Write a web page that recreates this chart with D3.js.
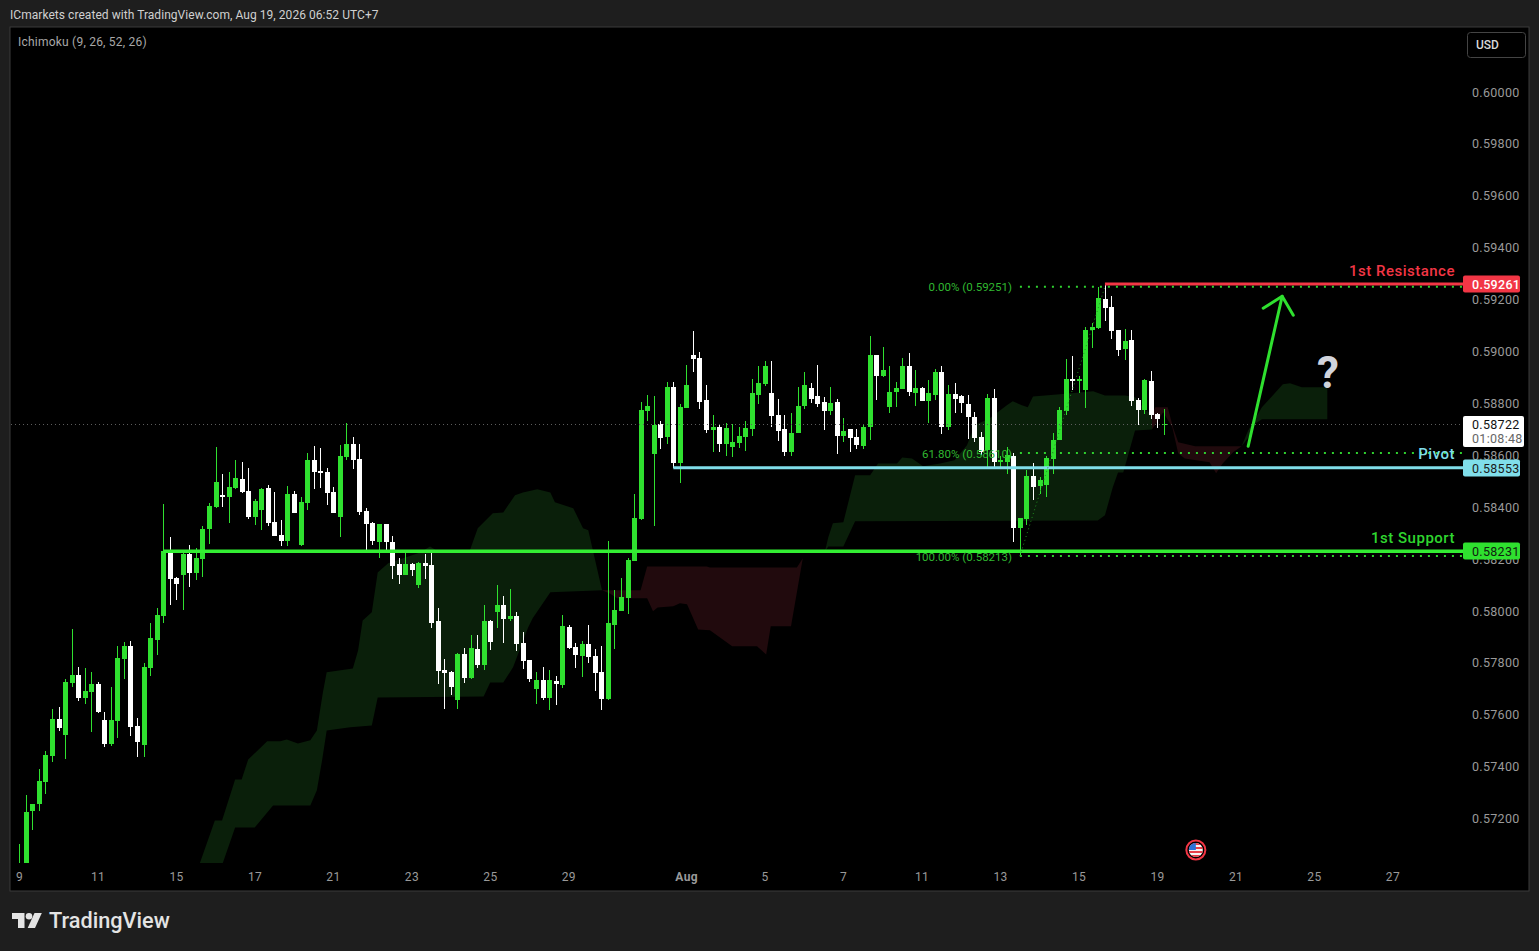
<!DOCTYPE html>
<html><head><meta charset="utf-8">
<style>
html,body{margin:0;padding:0;background:#1e1e1e;overflow:hidden}
svg{display:block}
text{font-family:Roboto,sans-serif}
</style>
<script src="https://cdn.jsdelivr.net/npm/d3@7/dist/d3.min.js"></script>
</head><body><svg id="c" width="1539" height="951"></svg>
<script>
const opens=[.56950,.57000,.57229,.57256,.57341,.57441,.57584,.57522,.57723,.57753,
.57665,.57688,.57719,.57580,.57487,.57576,.57815,.57865,.57557,.57484,
.57780,.57888,.57981,.58231,.58127,.58139,.58220,.58146,.58200,.58316,
.58401,.58447,.58439,.58474,.58509,.58462,.58362,.58389,.58474,.58343,
.58293,.58270,.58451,.58254,.58416,.58582,.58539,.58536,.58459,.58362,
.58593,.58644,.58586,.58385,.58339,.58266,.58335,.58266,.58181,.58139,
.58181,.58100,.58185,.58177,.57961,.57773,.57765,.57657,.57834,.57742,
.57854,.57792,.57961,.57996,.58023,.57969,.57981,.57877,.57811,.57699,
.57734,.57665,.57730,.57715,.57938,.57861,.57827,.57873,.57827,.57765,
.57661,.57946,.58000,.58050,.58193,.58354,.58770,.58608,.58720,.58670,
.58863,.58570,.58782,.58986,.58975,.58813,.58697,.58709,.58643,.58632,
.58647,.58670,.58701,.58832,.58874,.58840,.58755,.58701,.58612,.58686,
.58790,.58859,.58828,.58805,.58770,.58805,.58674,.58701,.58670,.58636,
.58709,.58986,.58905,.58786,.58844,.58855,.58944,.58840,.58859,.58809,
.58832,.58921,.58709,.58836,.58829,.58798,.58748,.58670,.58620,.58821,
.58574,.58574,.58597,.58320,.58355,.58520,.58482,.58486,.58586,.58659,
.58771,.58894,.58891,.58852,.59083,.59090,.59202,.59171,.59083,.59010,
.59044,.58813,.58775,.58886,.58759,.58717];
const closes=[.57000,.57225,.57259,.57345,.57445,.57584,.57549,.57726,.57753,.57665,
.57692,.57719,.57611,.57487,.57580,.57819,.57865,.57553,.57495,.57784,
.57896,.57985,.58231,.58123,.58104,.58220,.58146,.58204,.58316,.58405,
.58497,.58439,.58478,.58512,.58459,.58362,.58424,.58470,.58339,.58289,
.58270,.58451,.58378,.58420,.58582,.58536,.58532,.58455,.58378,.58597,
.58644,.58582,.58381,.58335,.58270,.58335,.58266,.58173,.58139,.58181,
.58158,.58185,.58173,.57954,.57769,.57761,.57707,.57834,.57742,.57857,
.57792,.57961,.57881,.58023,.57969,.57981,.57873,.57807,.57738,.57734,
.57665,.57734,.57719,.57942,.57857,.57830,.57873,.57823,.57761,.57661,
.57954,.58004,.58054,.58197,.58358,.58774,.58793,.58716,.58666,.58863,
.58570,.58786,.58871,.58971,.58805,.58697,.58709,.58643,.58705,.58651,
.58674,.58705,.58840,.58878,.58944,.58751,.58693,.58612,.58689,.58793,
.58871,.58820,.58797,.58770,.58801,.58674,.58693,.58666,.58639,.58712,
.58986,.58905,.58928,.58847,.58859,.58944,.58844,.58859,.58809,.58840,
.58921,.58709,.58836,.58820,.58801,.58748,.58667,.58613,.58821,.58574,
.58582,.58601,.58320,.58358,.58520,.58478,.58505,.58590,.58659,.58775,
.58894,.58891,.58894,.59083,.59094,.59206,.59168,.59079,.59006,.59040,
.58809,.58775,.58890,.58755,.58740,.58722];
const highs=[.57102,.57291,.57259,.57391,.57460,.57622,.57630,.57738,.57931,.57784,
.57780,.57765,.57726,.57611,.57707,.57865,.57881,.57884,.57588,.57800,
.57954,.58012,.58412,.58285,.58131,.58227,.58254,.58243,.58328,.58416,
.58632,.58528,.58536,.58582,.58574,.58551,.58432,.58474,.58486,.58459,
.58351,.58482,.58462,.58439,.58609,.58636,.58628,.58551,.58478,.58640,
.58724,.58670,.58644,.58397,.58343,.58335,.58335,.58289,.58204,.58223,
.58185,.58189,.58220,.58231,.58012,.57815,.57769,.57838,.57857,.57907,
.57907,.58023,.57965,.58100,.58058,.58085,.57996,.57919,.57811,.57765,
.57784,.57773,.57750,.57985,.57946,.57877,.57884,.57946,.57854,.57865,
.58270,.58081,.58127,.58204,.58451,.58805,.58832,.58828,.58732,.58882,
.58882,.58797,.58951,.59079,.58998,.58871,.58755,.58720,.58724,.58720,
.58709,.58732,.58894,.58944,.58963,.58963,.58817,.58755,.58766,.58863,
.58924,.58878,.58951,.58824,.58863,.58820,.58743,.58701,.58701,.58716,
.59059,.58986,.59017,.58944,.58882,.58975,.58994,.58928,.58863,.58890,
.58932,.58944,.58871,.58878,.58832,.58832,.58767,.58690,.58836,.58855,
.58597,.58632,.58609,.58358,.58543,.58570,.58516,.58597,.58686,.58786,
.58971,.58983,.58906,.59094,.59110,.59248,.59260,.59214,.59083,.59087,
.59083,.58821,.58894,.58925,.58763,.58778];
const lows=[.56900,.56980,.57157,.57231,.57295,.57418,.57538,.57430,.57707,.57653,
.57642,.57534,.57607,.57476,.57480,.57511,.57738,.57518,.57437,.57437,
.57750,.57830,.57954,.58023,.58042,.58004,.58092,.58119,.58131,.58258,
.58397,.58401,.58339,.58470,.58455,.58354,.58331,.58312,.58328,.58289,
.58250,.58250,.58378,.58250,.58389,.58470,.58474,.58408,.58378,.58285,
.58582,.58547,.58370,.58223,.58254,.58204,.58235,.58123,.58104,.58139,
.58135,.58089,.58123,.57934,.57719,.57622,.57676,.57622,.57723,.57738,
.57780,.57773,.57850,.57934,.57877,.57961,.57846,.57777,.57726,.57642,
.57657,.57618,.57638,.57703,.57854,.57780,.57746,.57800,.57692,.57618,
.57657,.57854,.58000,.57988,.58193,.58350,.58732,.58330,.58624,.58643,
.58551,.58493,.58782,.58924,.58778,.58686,.58612,.58612,.58597,.58593,
.58628,.58616,.58674,.58797,.58867,.58712,.58655,.58597,.58597,.58686,
.58778,.58801,.58786,.58697,.58755,.58605,.58651,.58612,.58624,.58624,
.58659,.58813,.58901,.58763,.58786,.58855,.58828,.58790,.58809,.58724,
.58813,.58682,.58697,.58766,.58763,.58663,.58651,.58601,.58555,.58547,
.58547,.58528,.58266,.58212,.58331,.58428,.58451,.58439,.58528,.58659,
.58755,.58852,.58840,.58782,.59013,.59087,.59117,.59048,.58983,.58967,
.58790,.58717,.58759,.58740,.58705,.58678];

// Ichimoku cloud outlines: [bar index, price]
const green1Upper=[[27.6,.57029],[29.9,.57194],[31,.57194],[33,.57352],[34,.57352],[35,.57429],[37.9,.57499],[39.9,.57499],[40.9,.57506],[42.6,.57491],[44.5,.57503],[45.5,.57541],[46.4,.57684],[47,.57765],[51,.57780],[51.8,.57849],[52.5,.57965],[53.9,.57996],[54.8,.58150],[56.4,.58185],[61.3,.58227],[62.8,.58250],[64.3,.58227],[68.9,.58235],[70.1,.58320],[72.4,.58378],[74,.58381],[75.8,.58447],[77,.58458],[79.2,.58470],[81.2,.58458],[81.9,.58420],[84.7,.58397],[86.2,.58320],[87,.58312],[89.1,.58081]];
const green1Lower=[[27.6,.57029],[31.1,.57029],[33,.57167],[36,.57167],[38.8,.57252],[44.5,.57252],[45.5,.57310],[46.3,.57426],[47,.57541],[50.6,.57553],[53.9,.57560],[54.8,.57668],[71,.57672],[72,.57726],[74,.57726],[75.5,.57784],[77.8,.57938],[78.5,.57973],[81.2,.58073],[89.1,.58081]];
const red1Upper=[[89.1,.58081],[95,.58081],[96,.58173],[105.1,.58173],[105.6,.58169],[118.9,.58169],[119.8,.58204]];
const red1Lower=[[89.1,.58081],[90.3,.58069],[91.4,.58050],[96,.58050],[96.9,.58000],[97.6,.58015],[100,.58019],[101,.58031],[102.1,.58027],[103.8,.57930],[105.6,.57927],[109,.57865],[112.8,.57865],[114.2,.57834],[114.9,.57942],[118,.57942],[119.8,.58204]];
const green2Upper=[[119.8,.58204],[123.2,.58231],[123.7,.58285],[124.4,.58339],[126,.58343],[127.8,.58524],[130.1,.58524],[131.3,.58570],[134.2,.58570],[135,.58593],[136.5,.58589],[138.2,.58559],[140.8,.58570],[143,.58582],[144.9,.58640],[146.1,.58717],[148.4,.58744],[151,.58794],[151.9,.58809],[153.3,.58794],[154.2,.58786],[155,.58828],[159.1,.58836],[164.2,.58848],[166,.58832],[169.1,.58832],[170.6,.58825],[171.8,.58786],[173.2,.58755]];
const green2Lower=[[119.8,.58204],[123.2,.58231],[123.7,.58250],[126,.58250],[127.8,.58347],[164.9,.58350],[166,.58370],[167.2,.58478],[168,.58535],[168.8,.58535],[170.6,.58697],[173.2,.58701]];
const red2Upper=[[173.2,.58755],[173.7,.58786],[175.6,.58786],[176.4,.58709],[177.2,.58651],[179.8,.58636],[186.9,.58636]];
const red2Lower=[[173.2,.58701],[174.9,.58767],[176.3,.58709],[177.2,.58609],[178.2,.58589],[182,.58574],[183,.58532],[184,.58570],[185.6,.58613],[186.9,.58636]];
const green3Upper=[[186.9,.58636],[187.9,.58697],[190,.58786],[193.2,.58875],[194.3,.58879],[196.1,.58863],[200,.58863]];
const green3Lower=[[186.9,.58636],[188.2,.58678],[189,.58724],[190,.58740],[200,.58740]];

const priceTicks=[.6,.598,.596,.594,.592,.59,.588,.586,.584,.582,.58,.578,.576,.574,.572];
const timeTickBars=[0,12,24,36,48,60,72,84,102,114,126,138,150,162,174,186,198,210];
const timeTickLabels=["9","11","15","17","21","23","25","29","Aug","5","7","11","13","15","19","21","25","27"];

const resistance=.59261, pivot=.58553, support=.58231, lastPrice=.58722;
const fibLevels=[[.59251,"0.00% (0.59251)"],[.58610,"61.80% (0.58610)"],[.58213,"100.00% (0.58213)"]];
const arrowShaft=[[187.9,.58636],[193.1,.59214]];
const arrowHead=[[190.2,.59168],[193.1,.59214],[194.8,.59141]];

const GREEN="#2fe02f", WHITE="#ffffff", RED="#f23645", CYAN="#80deea";
const CLOUD_G="#0a1f0a", CLOUD_R="#210a0d";

const svg=d3.select("#c");
const x=d3.scaleLinear().domain([0,210]).range([19.3,19.3+6.54*210]);
const y=d3.scaleLinear().domain([.6,.572]).range([92.3,818.9]);

svg.append("rect").attr("x",10).attr("y",27).attr("width",1519).attr("height",864).attr("fill","#000").attr("stroke","#3a3a3a").attr("stroke-width",1);
const defs=svg.append("defs");
defs.append("clipPath").attr("id","plot").append("rect").attr("x",11).attr("y",28).attr("width",1452).attr("height",835);
defs.append("clipPath").attr("id","lines").append("rect").attr("x",11).attr("y",28).attr("width",1452).attr("height",862);

const plot=svg.append("g").attr("clip-path","url(#plot)");
const line=d3.line().x(d=>x(d[0])).y(d=>y(d[1]));
[[green1Upper,green1Lower,CLOUD_G],[red1Upper,red1Lower,CLOUD_R],[green2Upper,green2Lower,CLOUD_G],[red2Upper,red2Lower,CLOUD_R],[green3Upper,green3Lower,CLOUD_G]].forEach(([u,l,c])=>{
  plot.append("path").attr("d",line(u.concat(l.slice().reverse()))+"Z").attr("fill",c);
});

// last price dotted line
const lg=svg.append("g").attr("clip-path","url(#lines)");
lg.append("line").attr("x1",11).attr("x2",1463).attr("y1",Math.round(y(lastPrice))+.5).attr("y2",Math.round(y(lastPrice))+.5).attr("stroke","#5d5d5d").attr("stroke-dasharray","1 3");

// fib
const fib=svg.append("g").attr("clip-path","url(#lines)");
fib.selectAll("text").data(fibLevels).join("text").attr("x",1012).attr("y",d=>y(d[0])+4.5).attr("text-anchor","end").attr("font-size",11.5).attr("fill","#30b830").text(d=>d[1]);
fib.selectAll("line.f").data(fibLevels).join("line").attr("class","f").attr("x1",x(153)).attr("x2",1463).attr("y1",d=>y(d[0])).attr("y2",d=>y(d[0])).attr("stroke","#2fd02f").attr("stroke-width",2).attr("stroke-dasharray","2 6");
fib.append("line").attr("x1",x(153)).attr("y1",y(.58213)).attr("x2",x(166)).attr("y2",y(.59251)).attr("stroke","#1f8f1f").attr("stroke-width",1).attr("stroke-dasharray","1 3");

// candles
const bars=d3.range(opens.length).map(i=>({i,o:opens[i],h:highs[i],l:lows[i],c:closes[i]}));
const g=plot.append("g").attr("shape-rendering","crispEdges");
g.selectAll("rect.w").data(bars).join("rect").attr("class","w")
 .attr("x",d=>Math.round(x(d.i))).attr("width",1).attr("y",d=>y(d.h)).attr("height",d=>y(d.l)-y(d.h))
 .attr("fill",d=>d.c>=d.o?GREEN:WHITE);
g.selectAll("rect.b").data(bars).join("rect").attr("class","b")
 .attr("x",d=>Math.round(x(d.i))-2).attr("width",5)
 .attr("y",d=>y(Math.max(d.o,d.c))).attr("height",d=>Math.max(1.5,Math.abs(y(d.o)-y(d.c))))
 .attr("fill",d=>d.c>=d.o?GREEN:WHITE);

// level lines
[[resistance,166,RED,3],[pivot,100,CYAN,3],[support,22,"#33ee33",3.5]].forEach(([p,b,c,w])=>{
  lg.append("line").attr("x1",x(b)).attr("x2",1463).attr("y1",y(p)).attr("y2",y(p)).attr("stroke",c).attr("stroke-width",w);
});

// arrow
lg.append("path").attr("d",line(arrowShaft)).attr("fill","none").attr("stroke","#2fe02f").attr("stroke-width",3).attr("stroke-linecap","round");
lg.append("path").attr("d",line(arrowHead)).attr("fill","none").attr("stroke","#2fe02f").attr("stroke-width",3).attr("stroke-linecap","round").attr("stroke-linejoin","round");
svg.append("text").attr("x",1328).attr("y",388).attr("text-anchor","middle").attr("font-size",44).attr("font-weight",700).attr("fill","#d1d4dc").text("?");

// level captions
[["1st Resistance",resistance,RED],["Pivot",pivot,CYAN],["1st Support",support,"#2fd62f"]].forEach(([t,p,c])=>{
  svg.append("text").attr("x",1455).attr("y",y(p)-(t=="Pivot"?8.5:8)).attr("text-anchor","end").attr("font-size",15).attr("font-weight",500).attr("letter-spacing",.5).attr("fill",c).text(t);
});

// axes
const ya=d3.axisRight(y).tickValues(priceTicks).tickFormat(d3.format(".5f")).tickSize(0).tickPadding(0);
const yg=svg.append("g").attr("transform","translate(1472,-0.3)").call(ya);
yg.select(".domain").remove();
yg.selectAll("text").attr("font-size",12.5).attr("letter-spacing",.3).attr("fill","#9a9a9a").style("font-family","Roboto");
const xa=d3.axisBottom(x).tickValues(timeTickBars).tickFormat((d,i)=>timeTickLabels[i]).tickSize(0).tickPadding(0);
const xg=svg.append("g").attr("transform","translate(-0.3,872)").call(xa);
xg.select(".domain").remove();
xg.selectAll("text").attr("font-size",12).attr("letter-spacing",.3).attr("fill","#9a9a9a").attr("font-weight",(d,i)=>timeTickLabels[i]=="Aug"?700:400).style("font-family","Roboto");

// price tags
function tag(p,bg,fg,txt,w){
  const cy=Math.round(y(p));
  svg.append("rect").attr("x",1463).attr("y",cy-8.5).attr("width",57).attr("height",17).attr("rx",2).attr("fill",bg);
  svg.append("text").attr("x",1472).attr("y",cy+4.5).attr("font-size",12.5).attr("font-weight",w).attr("letter-spacing",.3).attr("fill",fg).text(txt);
}
tag(resistance,RED,"#fff","0.59261",500);
tag(pivot,CYAN,"#1a1a1a","0.58553",400);
tag(support,"#2fe02f","#102010","0.58231",400);
const ly=Math.round(y(lastPrice));
svg.append("rect").attr("x",1463).attr("y",ly-8).attr("width",61).attr("height",31).attr("rx",2).attr("fill","#fff");
svg.append("text").attr("x",1472).attr("y",ly+4.5).attr("font-size",12.5).attr("letter-spacing",.3).attr("fill","#111").text("0.58722");
svg.append("text").attr("x",1472).attr("y",ly+18.5).attr("font-size",12.5).attr("letter-spacing",.3).attr("fill","#666").text("01:08:48");

// top texts
svg.append("text").attr("x",10).attr("y",19).attr("font-size",12).attr("letter-spacing",.05).attr("fill","#d0d0d0").text("ICmarkets created with TradingView.com, Aug 19, 2026 06:52 UTC+7");
svg.append("text").attr("x",18).attr("y",46).attr("font-size",12).attr("letter-spacing",.22).attr("fill","#a8a8a8").text("Ichimoku (9, 26, 52, 26)");

// USD button
svg.append("rect").attr("x",1467.5).attr("y",32.5).attr("width",58).attr("height",25).attr("rx",3).attr("fill","#000").attr("stroke","#444");
svg.append("text").attr("x",1476).attr("y",49).attr("font-size",12).attr("font-weight",500).attr("fill","#d8d8d8").text("USD");

// flag
const fl=svg.append("g").attr("transform","translate("+x(179.9)+",850)");
fl.append("circle").attr("r",10.5).attr("fill","#000");
defs.append("clipPath").attr("id","flag").append("circle").attr("r",7);
const ff=fl.append("g").attr("clip-path","url(#flag)");
ff.append("rect").attr("x",-8).attr("y",-8).attr("width",16).attr("height",16).attr("fill","#f5f5f5");
[-7,-3,1,5].forEach(v=>ff.append("rect").attr("x",-8).attr("y",v).attr("width",16).attr("height",2).attr("fill","#e8404a"));
ff.append("rect").attr("x",-8).attr("y",-8).attr("width",8).attr("height",8).attr("fill","#2a72d8");
fl.append("circle").attr("r",9.5).attr("fill","none").attr("stroke","#f23645").attr("stroke-width",2);

// TradingView logo
const lo=svg.append("g").attr("fill","#e4e4e4");
lo.append("path").attr("d","M12 913h12.5v15h-6.5v-9h-6z");
lo.append("circle").attr("cx",29).attr("cy",916.3).attr("r",3.3);
lo.append("path").attr("d","M34.5 913h7.3l-6.8 15h-7.3z");
svg.append("text").attr("x",49).attr("y",928).attr("font-size",21.7).attr("font-weight",500).attr("fill","#e4e4e4").text("TradingView");
</script></body></html>
